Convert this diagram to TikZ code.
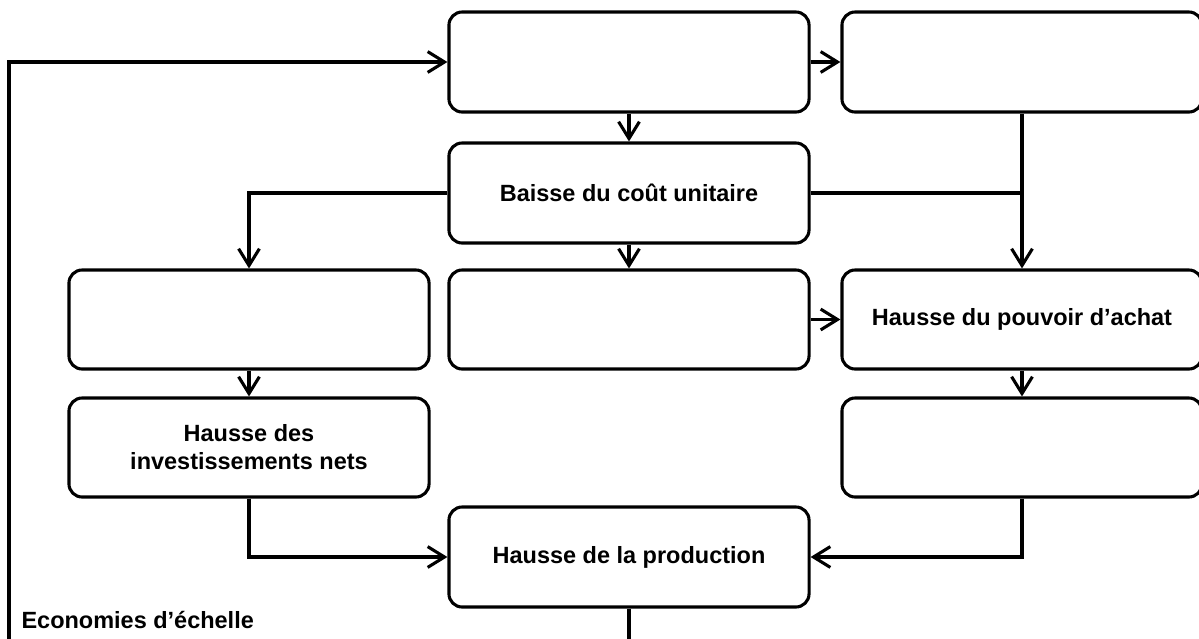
\documentclass[tikz,border=0pt]{standalone}
\usepackage{fontspec}
\setmainfont{Liberation Sans}
\usetikzlibrary{arrows.meta}

\begin{document}
\begin{tikzpicture}
[
    x=0.025cm, y=-0.025cm,
    line width=2.2pt,
    bloc/.style={draw, rounded corners=0.33cm, inner sep=0pt,
        minimum width=9cm, minimum height=2.5cm, align=center,
        font=\fontsize{16.7}{19.9}\selectfont\bfseries},
    fleche/.style={-{Straight Barb[length=0.42cm, width=0.52cm]}}
]
    \useasboundingbox (0, 0) rectangle (1199, 639);
    \clip (0, 0) rectangle (1199, 639);
    \node [bloc] (haut) at (629, 62) {};
    \node [bloc] (hautdroite) at (1022, 62) {};
    \node [bloc] (cout) at (629, 193) {Baisse du coût unitaire};
    \node [bloc, minimum height=2.475cm] (gauche) at (249, 319.5) {};
    \node [bloc, minimum height=2.475cm] (centre) at (629, 319.5) {};
    \node [bloc, minimum height=2.475cm] (pouvoir) at (1022, 319.5) {Hausse du pouvoir d’achat};
    \node [bloc, minimum height=2.475cm] (invest) at (249, 447.5) {Hausse des\\investissements nets};
    \node [bloc, minimum height=2.475cm] (basdroite) at (1022, 447.5) {};
    \node [bloc] (production) at (629, 557) {Hausse de la production};
    \node [anchor=base west, inner sep=0pt,
        font=\fontsize{16.7}{19.9}\selectfont\bfseries] (echelle) at (20, 628) {Economies d’échelle};
    \coordinate (boucle) at (9, 660);

    \draw [fleche] (haut) -- (hautdroite);
    \draw [fleche] (haut) -- (cout);
    \draw (cout.east) -- (cout.east -| hautdroite.south);
    \draw [fleche] (hautdroite) -- (pouvoir);
    \draw [fleche] (cout.west) -| (gauche.north);
    \draw [fleche] (cout) -- (centre);
    \draw [fleche] (centre) -- (pouvoir);
    \draw [fleche] (gauche) -- (invest);
    \draw [fleche] (pouvoir) -- (basdroite);
    \draw [fleche] (invest.south) |- (production.west);
    \draw [fleche] (basdroite.south) |- (production.east);
    \draw [fleche] (production.south) |- (boucle) |- (haut.west);
\end{tikzpicture}
\end{document}
